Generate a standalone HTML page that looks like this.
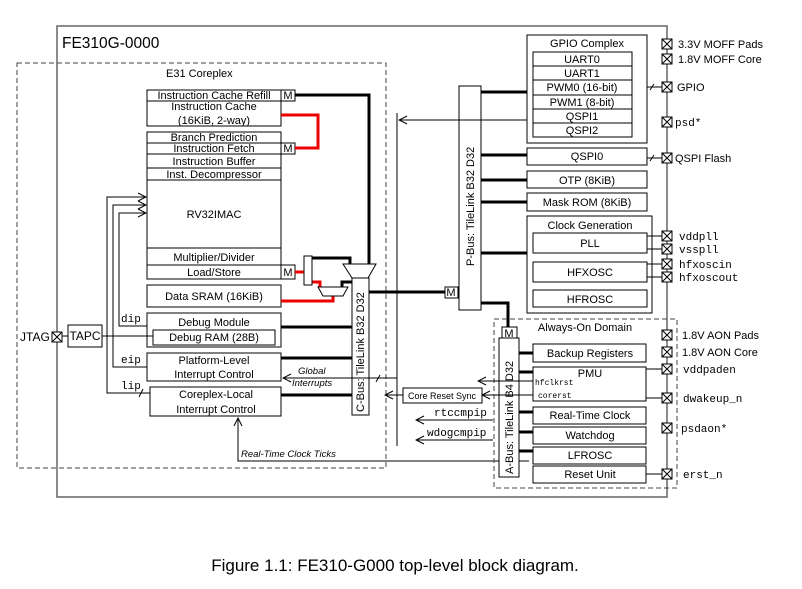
<!DOCTYPE html>
<html><head><meta charset="utf-8"><style>
html,body{margin:0;padding:0;background:#fff}
svg{display:block}
text{font-family:"Liberation Sans",sans-serif;font-size:11px;fill:#000}
.m{font-family:"Liberation Mono",monospace;font-size:11px}
.i{font-style:italic;font-size:9.5px}
.b{fill:#fff;stroke:#000;stroke-width:1}
.t{stroke:#000;stroke-width:3;fill:none}
.r{stroke:#e00;stroke-width:3;fill:none}
.l{stroke:#000;stroke-width:1;fill:none}
</style></head><body>
<svg width="802" height="589" viewBox="0 0 802 589" xmlns="http://www.w3.org/2000/svg">
<defs>
<marker id="a" markerWidth="10" markerHeight="10" refX="9" refY="5" orient="auto" markerUnits="userSpaceOnUse"><path d="M1,1 L9,5 L1,9" fill="none" stroke="#000" stroke-width="1"/></marker>
<g id="pad"><rect x="-5" y="-5" width="10" height="10" fill="#fff" stroke="#000"/><path d="M-5,-5 L5,5 M5,-5 L-5,5" stroke="#000"/></g>
</defs>
<rect x="57" y="26" width="610" height="471" fill="none" stroke="#666" stroke-width="1.5"/>
<text x="62" y="48" style="font-size:15.5px">FE310G-0000</text>
<rect x="17" y="63" width="369" height="405" fill="none" stroke="#444" stroke-dasharray="5,3"/>
<text x="166" y="77">E31 Coreplex</text>

<rect class="b" x="147" y="90" width="134" height="36"/>
<line class="l" x1="147" y1="101" x2="281" y2="101"/>
<text x="214" y="99" text-anchor="middle">Instruction Cache Refill</text>
<text x="214" y="110" text-anchor="middle">Instruction Cache</text>
<text x="214" y="124" text-anchor="middle">(16KiB, 2-way)</text>
<rect class="b" x="281" y="90" width="14" height="11"/><text x="288" y="99" text-anchor="middle">M</text>

<rect class="b" x="147" y="132" width="134" height="147"/>
<line class="l" x1="147" y1="143" x2="281" y2="143"/>
<line class="l" x1="147" y1="154" x2="281" y2="154"/>
<line class="l" x1="147" y1="168" x2="281" y2="168"/>
<line class="l" x1="147" y1="180" x2="281" y2="180"/>
<line class="l" x1="147" y1="248" x2="281" y2="248"/>
<line class="l" x1="147" y1="265" x2="281" y2="265"/>
<text x="214" y="141" text-anchor="middle">Branch Prediction</text>
<text x="214" y="152" text-anchor="middle">Instruction Fetch</text>
<text x="214" y="165" text-anchor="middle">Instruction Buffer</text>
<text x="214" y="178" text-anchor="middle">Inst. Decompressor</text>
<text x="214" y="218" text-anchor="middle">RV32IMAC</text>
<text x="214" y="261" text-anchor="middle">Multiplier/Divider</text>
<text x="214" y="276" text-anchor="middle">Load/Store</text>
<rect class="b" x="281" y="143" width="14" height="11"/><text x="288" y="152" text-anchor="middle">M</text>
<rect class="b" x="281" y="265" width="14" height="14"/><text x="288" y="276" text-anchor="middle">M</text>

<rect class="b" x="147" y="285" width="134" height="22"/><text x="214" y="300" text-anchor="middle">Data SRAM (16KiB)</text>
<rect class="b" x="147" y="313" width="134" height="34"/><text x="214" y="326" text-anchor="middle">Debug Module</text>
<rect class="b" x="153" y="330" width="122" height="15"/><text x="214" y="341" text-anchor="middle">Debug RAM (28B)</text>
<rect class="b" x="147" y="353" width="134" height="28"/><text x="214" y="364" text-anchor="middle">Platform-Level</text><text x="214" y="378" text-anchor="middle">Interrupt Control</text>
<rect class="b" x="150" y="387" width="131" height="29"/><text x="216" y="398" text-anchor="middle">Coreplex-Local</text><text x="216" y="413" text-anchor="middle">Interrupt Control</text>

<path class="r" d="M281,115 H318 V148 H295"/>
<path class="t" d="M295,95 H369 V266"/>
<path class="r" d="M295,272 H304"/>
<path class="r" d="M312,282 H320 V288"/>
<path class="r" d="M281,301 H333 V296"/>
<path class="t" d="M312,258 H350 V266"/>
<path class="t" d="M342,287 V282 H352"/>
<rect class="b" x="304" y="256" width="8" height="29"/>
<path d="M343,264 H376 L368,278 H352 Z" fill="#fff" stroke="#000"/>
<path d="M318,287 H348 L343,296 H323 Z" fill="#fff" stroke="#000"/>

<rect class="b" x="352" y="278" width="17" height="137"/>
<text transform="translate(364,412) rotate(-90)" style="font-size:11px">C-Bus:  TileLink B32 D32</text>
<path class="t" d="M281,327 H352 M281,358 H352 M281,395 H352 M369,292 H445"/>
<rect class="b" x="445" y="287" width="13" height="11"/><text x="451" y="296" text-anchor="middle">M</text>

<path class="l" d="M147,326 H119 V213 H146" marker-end="url(#a)"/>
<path class="l" d="M147,367 H113 V205 H146" marker-end="url(#a)"/>
<path class="l" d="M150,393 H107 V197 H146" marker-end="url(#a)"/>
<text class="m" x="121" y="322">dip</text>
<text class="m" x="121" y="363">eip</text>
<text class="m" x="121" y="389">lip</text>
<line class="l" x1="139" y1="397" x2="143" y2="389"/>

<text x="20" y="341" style="font-size:12px">JTAG</text>
<use href="#pad" x="57" y="337"/>
<line class="l" x1="62" y1="336" x2="68" y2="336"/>
<rect class="b" x="68" y="325" width="34" height="22"/><text x="85" y="340" text-anchor="middle" style="font-size:12px">TAPC</text>
<line class="l" x1="102" y1="336" x2="153" y2="336"/>

<line class="l" x1="397" y1="113" x2="397" y2="446"/>
<path class="l" d="M397,378 H283" marker-end="url(#a)"/>
<line class="l" x1="376" y1="382" x2="380" y2="375"/>
<text class="i" x="298" y="374">Global</text>
<text class="i" x="292" y="386">Interrupts</text>
<path class="l" d="M529,461 H238 V418" marker-end="url(#a)"/>
<text class="i" x="241" y="457">Real-Time Clock Ticks</text>

<rect class="b" x="459" y="86" width="22" height="224"/>
<text transform="translate(474,266) rotate(-90)" style="font-size:11px">P-Bus:  TileLink B32 D32</text>
<path class="t" d="M481,92 H527 M481,155 H527 M481,180 H527 M481,202 H527 M481,253 H527 M481,303 H508 V327"/>
<path class="l" d="M527,120 H399" marker-end="url(#a)"/>

<rect class="b" x="527" y="35" width="120" height="108"/>
<text x="587" y="47" text-anchor="middle">GPIO Complex</text>
<rect class="b" x="533" y="52" width="99" height="85"/>
<path class="l" d="M533,66 H632 M533,80 H632 M533,95 H632 M533,109 H632 M533,123 H632"/>
<text x="582" y="63" text-anchor="middle">UART0</text>
<text x="582" y="77" text-anchor="middle">UART1</text>
<text x="582" y="91" text-anchor="middle">PWM0 (16-bit)</text>
<text x="582" y="106" text-anchor="middle">PWM1 (8-bit)</text>
<text x="582" y="120" text-anchor="middle">QSPI1</text>
<text x="582" y="134" text-anchor="middle">QSPI2</text>
<rect class="b" x="527" y="148" width="120" height="17"/><text x="587" y="160" text-anchor="middle">QSPI0</text>
<rect class="b" x="527" y="171" width="120" height="17"/><text x="587" y="184" text-anchor="middle">OTP (8KiB)</text>
<rect class="b" x="527" y="193" width="120" height="18"/><text x="587" y="206" text-anchor="middle">Mask ROM (8KiB)</text>
<rect class="b" x="527" y="216" width="125" height="97"/>
<text x="590" y="229" text-anchor="middle">Clock Generation</text>
<rect class="b" x="533" y="233" width="114" height="20"/><text x="590" y="247" text-anchor="middle">PLL</text>
<rect class="b" x="533" y="262" width="114" height="20"/><text x="590" y="276" text-anchor="middle">HFXOSC</text>
<rect class="b" x="533" y="290" width="114" height="17"/><text x="590" y="303" text-anchor="middle">HFROSC</text>

<path class="l" d="M647,87 H662 M647,158 H662 M647,236 H662 M647,249 H662 M647,264 H662 M647,277 H662"/>
<line class="l" x1="650" y1="90" x2="654" y2="84"/>
<line class="l" x1="650" y1="161" x2="654" y2="155"/>
<use href="#pad" x="667" y="44"/><text x="678" y="48">3.3V MOFF Pads</text>
<use href="#pad" x="667" y="59"/><text x="678" y="63">1.8V MOFF Core</text>
<use href="#pad" x="667" y="87"/><text x="677" y="91">GPIO</text>
<use href="#pad" x="667" y="122"/><text class="m" x="675" y="126">psd*</text>
<use href="#pad" x="667" y="158"/><text x="675" y="162">QSPI Flash</text>
<use href="#pad" x="667" y="236"/><text class="m" x="679" y="240">vddpll</text>
<use href="#pad" x="667" y="249"/><text class="m" x="679" y="253">vsspll</text>
<use href="#pad" x="667" y="264"/><text class="m" x="679" y="268">hfxoscin</text>
<use href="#pad" x="667" y="277"/><text class="m" x="679" y="281">hfxoscout</text>

<rect x="494" y="319" width="183" height="169" fill="none" stroke="#444" stroke-dasharray="5,3"/>
<text x="585" y="331" text-anchor="middle">Always-On Domain</text>
<rect class="b" x="502" y="327" width="15" height="11"/><text x="509" y="337" text-anchor="middle">M</text>
<rect class="b" x="499" y="338" width="20" height="139"/>
<text transform="translate(513,474) rotate(-90)" style="font-size:11px">A-Bus:  TileLink B4 D32</text>
<path class="t" d="M519,353 H533 M519,372 H533 M519,412 H533 M519,432 H533 M519,451 H533"/>
<rect class="b" x="533" y="344" width="113" height="18"/><text x="590" y="357" text-anchor="middle">Backup Registers</text>
<rect class="b" x="533" y="367" width="113" height="34"/><text x="590" y="377" text-anchor="middle">PMU</text>
<text class="m" x="535" y="385" style="font-size:8px">hfclkrst</text>
<text class="m" x="538" y="398" style="font-size:8px">corerst</text>
<rect class="b" x="533" y="407" width="113" height="17"/><text x="590" y="419" text-anchor="middle">Real-Time Clock</text>
<rect class="b" x="533" y="427" width="113" height="17"/><text x="590" y="439" text-anchor="middle">Watchdog</text>
<rect class="b" x="533" y="447" width="113" height="17"/><text x="590" y="459" text-anchor="middle">LFROSC</text>
<rect class="b" x="533" y="466" width="113" height="17"/><text x="590" y="478" text-anchor="middle">Reset Unit</text>
<path class="l" d="M533,381 H478" marker-end="url(#a)"/>
<path class="l" d="M533,395 H482" marker-end="url(#a)"/>
<rect class="b" x="403" y="388" width="79" height="15"/><text x="442" y="399" text-anchor="middle" style="font-size:9px">Core Reset Sync</text>
<path class="l" d="M403,395 H385" marker-end="url(#a)"/>
<path class="l" d="M493,420 H416" marker-end="url(#a)"/>
<text class="m" x="434" y="416">rtccmpip</text>
<path class="l" d="M493,440 H416" marker-end="url(#a)"/>
<text class="m" x="427" y="436">wdogcmpip</text>
<path class="l" d="M646,369 H662 M646,398 H662 M646,474 H662"/>
<use href="#pad" x="667" y="335"/><text x="682" y="339">1.8V AON Pads</text>
<use href="#pad" x="667" y="352"/><text x="682" y="356">1.8V AON Core</text>
<use href="#pad" x="667" y="369"/><text class="m" x="683" y="373">vddpaden</text>
<use href="#pad" x="667" y="398"/><text class="m" x="683" y="402">dwakeup_n</text>
<use href="#pad" x="667" y="428"/><text class="m" x="681" y="432">psdaon*</text>
<use href="#pad" x="667" y="474"/><text class="m" x="683" y="478">erst_n</text>

<text x="395" y="571" text-anchor="middle" style="font-size:17px">Figure 1.1: FE310-G000 top-level block diagram.</text>
</svg>
</body></html>
